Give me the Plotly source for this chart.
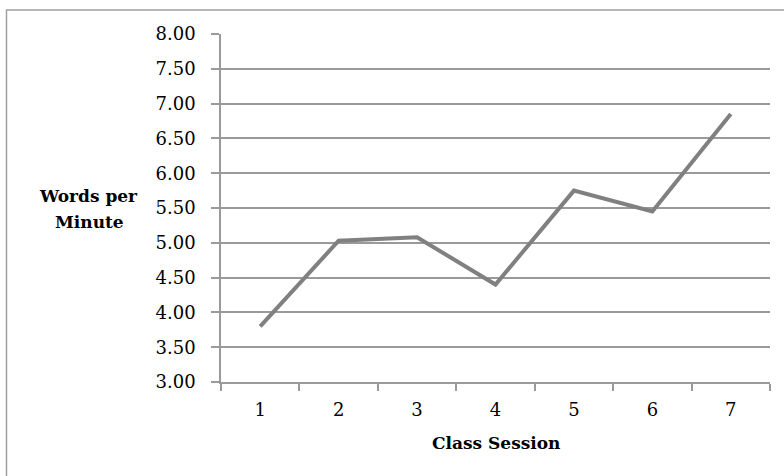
import plotly.graph_objects as go

# Reading speed per class session
sessions = ["1", "2", "3", "4", "5", "6", "7"]
words_per_minute = [3.80, 5.03, 5.08, 4.40, 5.75, 5.45, 6.85]
y_ticks = [3.0, 3.5, 4.0, 4.5, 5.0, 5.5, 6.0, 6.5, 7.0, 7.5, 8.0]

FONT = "DejaVu Serif"
GRID = "#9a9a9a"

# plot-area geometry in pixels, used to place the free-standing titles
L, R, T, B = 221, 14, 34, 94
PW, PH = 784 - L - R, 476 - T - B


def px_x(px):
    return (px - L) / PW


def px_y(py):
    return (476 - B - py) / PH


fig = go.Figure()
fig.add_trace(go.Scatter(
    x=sessions, y=words_per_minute, mode="lines",
    line=dict(color="#808080", width=4),
    hoverinfo="skip", showlegend=False,
))

title_font = dict(family=FONT, size=17, color="black")

fig.update_layout(
    width=784, height=476,
    margin=dict(l=L, r=R, t=T, b=B),
    paper_bgcolor="white", plot_bgcolor="white",
    font=dict(family=FONT, size=18, color="black"),
    xaxis=dict(
        type="category", range=[-0.5, 6.5],
        tickson="boundaries", ticks="outside", ticklen=7, tickwidth=1.5,
        tickcolor=GRID, showgrid=False, showline=True, linecolor=GRID,
        linewidth=1.5, zeroline=False, ticklabelstandoff=11,
        tickfont=dict(family=FONT, size=18),
    ),
    yaxis=dict(
        range=[3.0, 8.0], tickvals=y_ticks,
        ticktext=[f"{v:.2f}" for v in y_ticks],
        ticks="outside", ticklen=8, tickwidth=1.5, tickcolor=GRID,
        showgrid=True, gridcolor=GRID, gridwidth=1.5,
        showline=True, linecolor=GRID, linewidth=1.5, zeroline=False,
        ticklabelstandoff=12, tickfont=dict(family=FONT, size=18),
    ),
    annotations=[
        dict(text="<b>Words per</b>", xref="paper", yref="paper",
             x=px_x(88), y=px_y(196), showarrow=False,
             xanchor="center", yanchor="middle", font=title_font),
        dict(text="<b>Minute</b>", xref="paper", yref="paper",
             x=px_x(89), y=px_y(222), showarrow=False,
             xanchor="center", yanchor="middle", font=title_font),
        dict(text="<b>Class Session</b>", xref="paper", yref="paper",
             x=px_x(496), y=px_y(443), showarrow=False,
             xanchor="center", yanchor="middle", font=title_font),
    ],
    shapes=[
        dict(type="rect", xref="paper", yref="paper",
             x0=px_x(6.5), x1=1.2,
             y0=-0.5, y1=px_y(10),
             line=dict(color="#a0a0a0", width=1.5), layer="below"),
    ],
)

fig.write_html("out.html")
